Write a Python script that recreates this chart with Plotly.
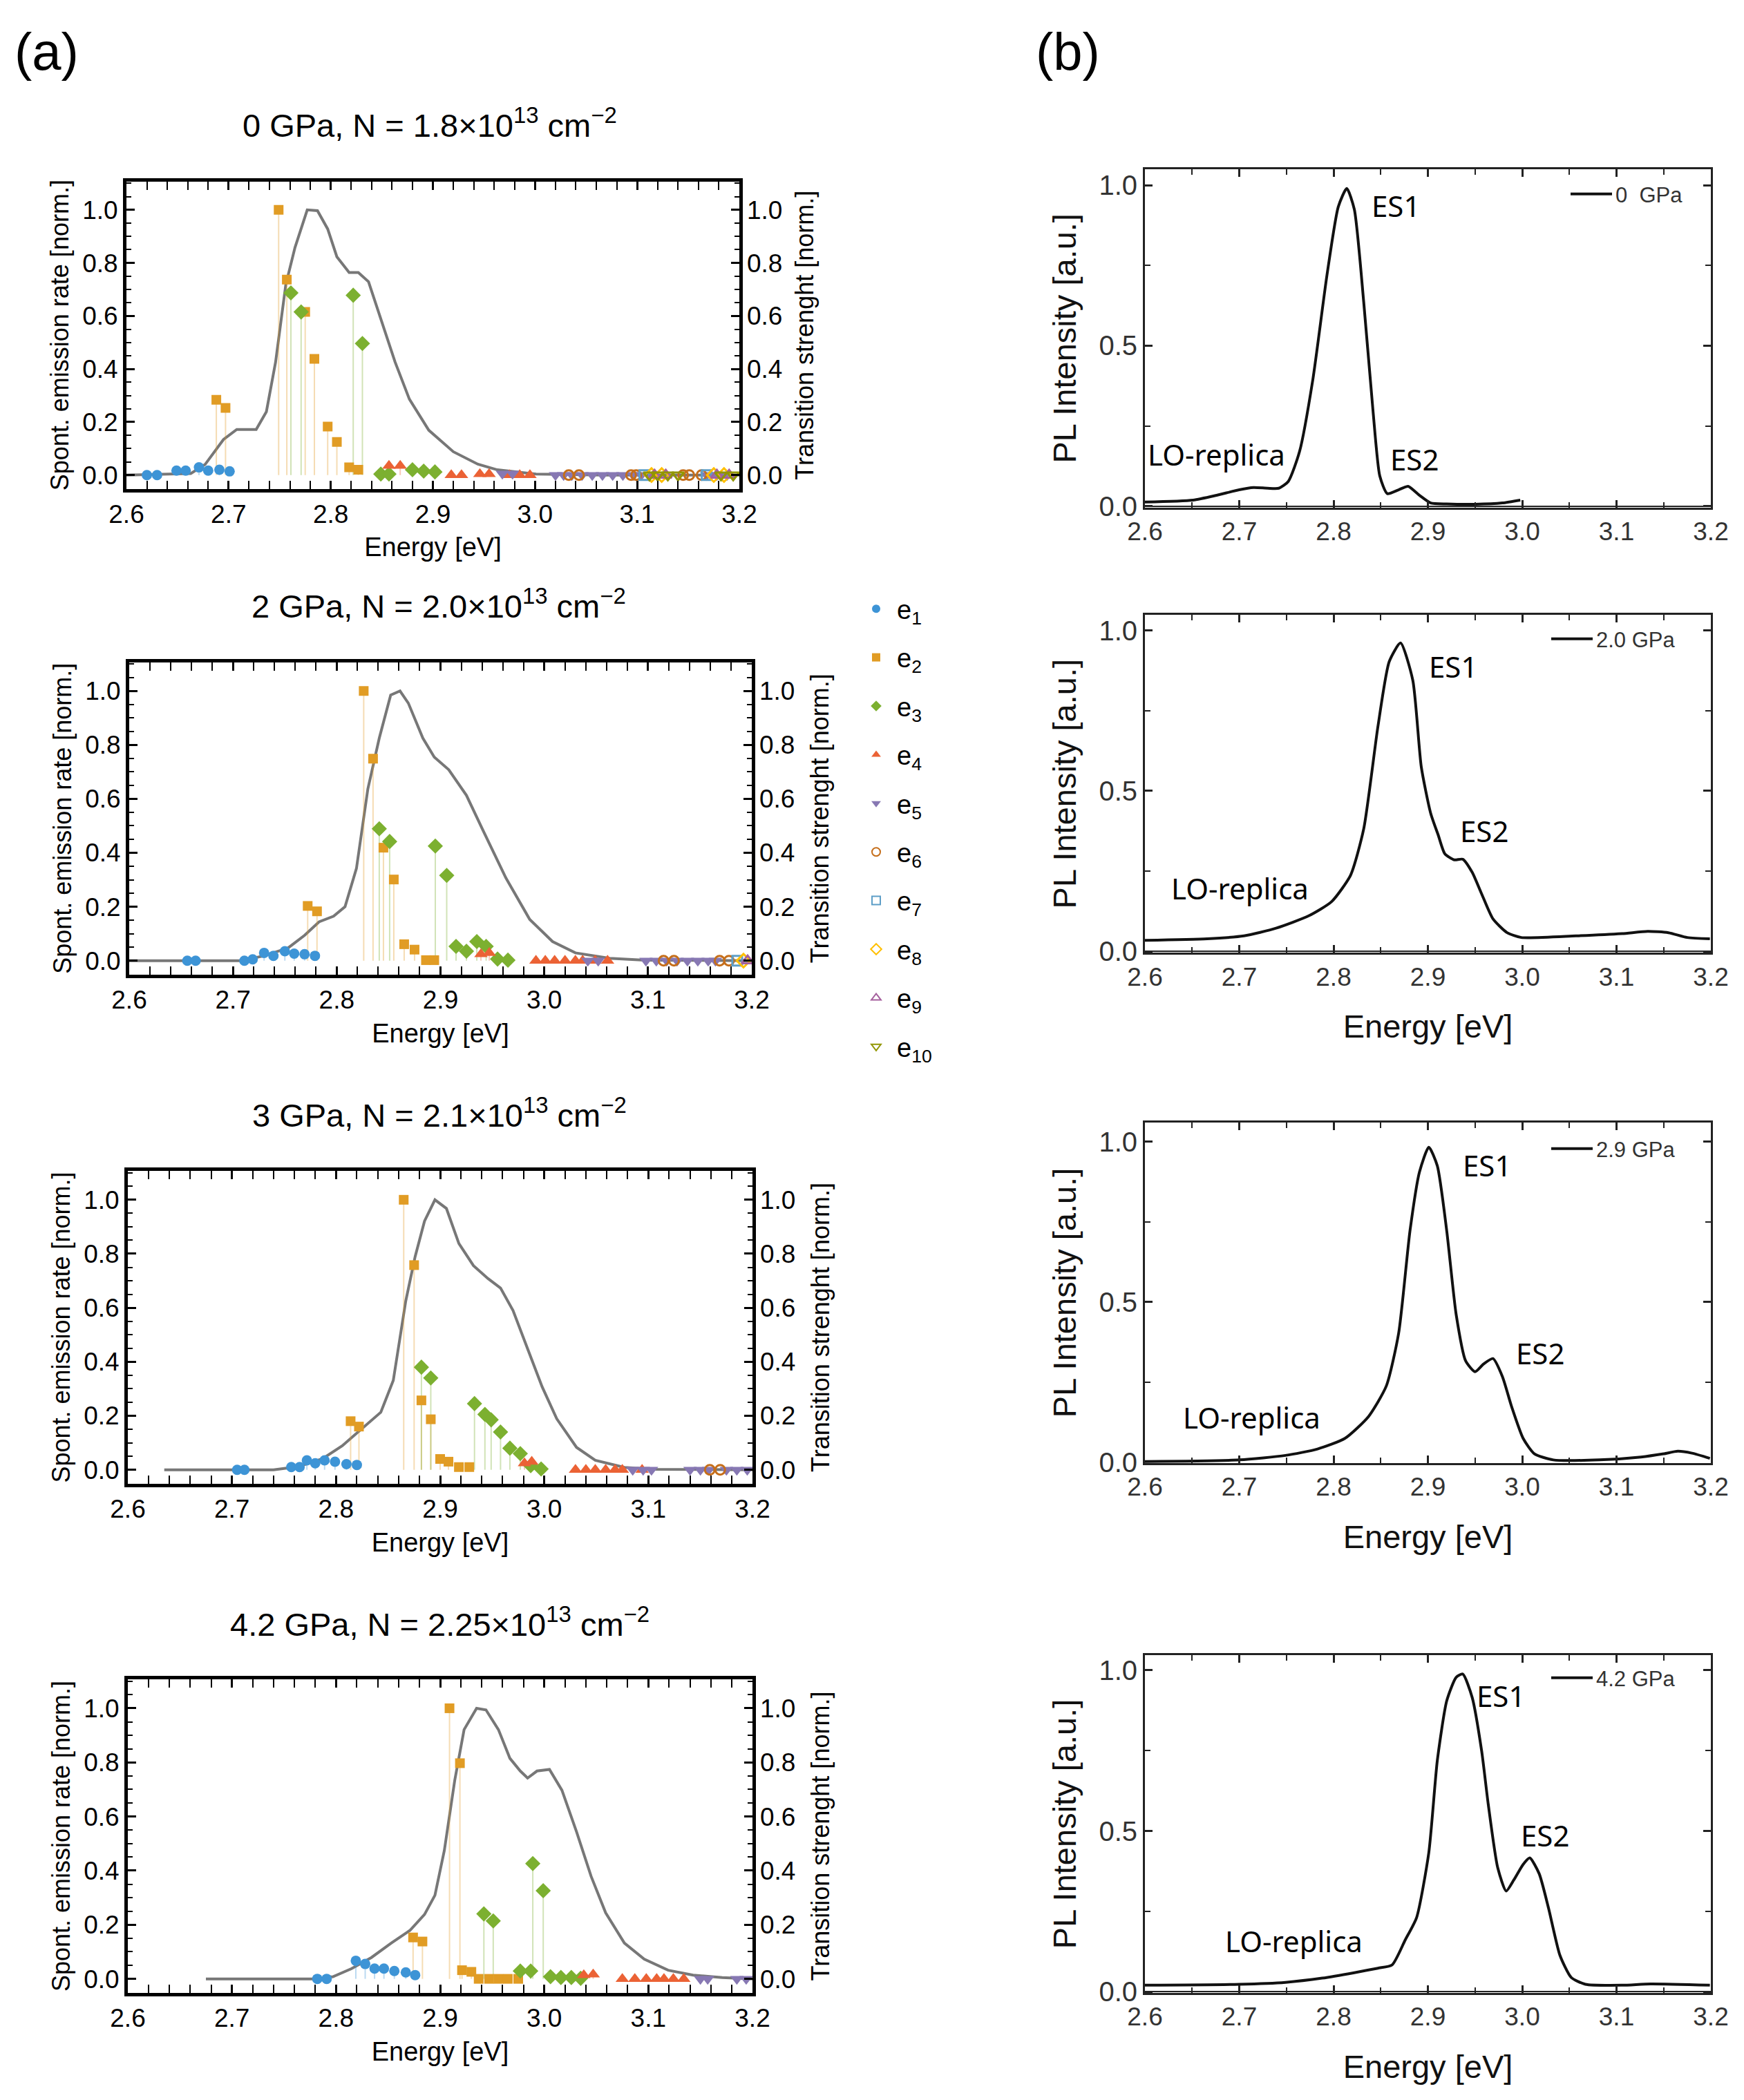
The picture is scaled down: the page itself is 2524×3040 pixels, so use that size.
import plotly.graph_objects as go

# ---------------- DATA ----------------
SERIES = ["e1", "e2", "e3", "e4", "e5", "e6", "e7", "e8", "e9", "e10"]
SERIES_LABELS = ["e<sub>1</sub>", "e<sub>2</sub>", "e<sub>3</sub>", "e<sub>4</sub>", "e<sub>5</sub>",
                 "e<sub>6</sub>", "e<sub>7</sub>", "e<sub>8</sub>", "e<sub>9</sub>", "e<sub>10</sub>"]

TITLES_A = [
    "0 GPa, N = 1.8×10<sup>13</sup> cm<sup>−2</sup>",
    "2 GPa, N = 2.0×10<sup>13</sup> cm<sup>−2</sup>",
    "3 GPa, N = 2.1×10<sup>13</sup> cm<sup>−2</sup>",
    "4.2 GPa, N = 2.25×10<sup>13</sup> cm<sup>−2</sup>",
]
PL_LABELS = ["0  GPa", "2.0 GPa", "2.9 GPa", "4.2 GPa"]

# spontaneous emission rate curves (panel a)
SE_0_E = [2.600, 2.663, 2.677, 2.695, 2.708, 2.727, 2.737, 2.746, 2.756, 2.765, 2.777, 2.787, 2.797, 2.806,
          2.818, 2.827, 2.837, 2.849, 2.863, 2.877, 2.896, 2.920, 2.944, 2.963, 3.001, 3.068, 3.200]
SE_0_V = [0.0, 0.006, 0.040, 0.134, 0.172, 0.172, 0.239, 0.426, 0.718, 0.858, 1.0, 0.997, 0.928, 0.823,
          0.764, 0.764, 0.729, 0.589, 0.426, 0.286, 0.169, 0.088, 0.041, 0.020, 0.004, 0.0, 0.0]
SE_2_E = [2.600, 2.708, 2.730, 2.753, 2.769, 2.783, 2.797, 2.808, 2.819, 2.830, 2.841, 2.852, 2.861, 2.869,
          2.883, 2.894, 2.908, 2.925, 2.941, 2.963, 2.986, 3.008, 3.030, 3.063, 3.097, 3.200]
SE_2_V = [0.0, 0.0, 0.018, 0.047, 0.094, 0.144, 0.165, 0.200, 0.342, 0.637, 0.825, 0.985, 1.0, 0.955,
          0.825, 0.755, 0.708, 0.613, 0.483, 0.307, 0.153, 0.071, 0.029, 0.009, 0.002, 0.0]
SE_3_E = [2.635, 2.740, 2.764, 2.787, 2.806, 2.825, 2.843, 2.855, 2.867, 2.876, 2.885, 2.895, 2.906, 2.918,
          2.932, 2.946, 2.958, 2.970, 2.984, 2.998, 3.012, 3.031, 3.049, 3.077, 3.105, 3.200]
SE_3_V = [0.0, 0.0, 0.012, 0.041, 0.089, 0.153, 0.213, 0.331, 0.626, 0.790, 0.921, 1.0, 0.968, 0.838,
          0.756, 0.708, 0.673, 0.590, 0.449, 0.307, 0.189, 0.083, 0.035, 0.009, 0.002, 0.0]
SE_42_E = [2.675, 2.778, 2.797, 2.815, 2.834, 2.853, 2.871, 2.885, 2.895, 2.904, 2.914, 2.923, 2.935, 2.944,
           2.956, 2.967, 2.977, 2.984, 2.993, 3.005, 3.017, 3.031, 3.045, 3.059, 3.077, 3.096, 3.119, 3.143,
           3.171, 3.200]
SE_42_V = [0.0, 0.0, 0.008, 0.038, 0.079, 0.132, 0.179, 0.238, 0.309, 0.474, 0.733, 0.921, 1.0, 0.994,
           0.921, 0.815, 0.768, 0.742, 0.768, 0.774, 0.697, 0.544, 0.379, 0.244, 0.132, 0.073, 0.032, 0.014,
           0.005, 0.0]

# transition strengths (energy list, strength list) per state
STEMS_0GPA = {
    "e1": ([2.620, 2.630, 2.649, 2.658, 2.671, 2.680, 2.691, 2.701], [0.0, 0.0, 0.017, 0.017, 0.029, 0.017, 0.020, 0.014]),
    "e2": ([2.688, 2.697, 2.749, 2.757, 2.775, 2.784, 2.797, 2.806, 2.818, 2.827], [0.284, 0.253, 1.0, 0.737, 0.615, 0.438, 0.183, 0.125, 0.029, 0.020]),
    "e3": ([2.761, 2.771, 2.822, 2.831, 2.849, 2.857, 2.880, 2.891, 2.902], [0.687, 0.615, 0.678, 0.496, 0.004, 0.004, 0.020, 0.015, 0.012]),
    "e4": ([2.857, 2.868, 2.918, 2.928, 2.946, 2.955, 2.975, 2.985, 2.995], [0.035, 0.035, 0.0, 0.0, 0.004, 0.004, 0.0, 0.0, 0.0]),
    "e5": ([2.968, 2.978, 3.020, 3.028, 3.036, 3.046, 3.056, 3.066, 3.076, 3.086, 3.096, 3.104, 3.168, 3.178, 3.188], [0.005, 0.005] + [0.0] * 13),
    "e6": ([3.033, 3.043, 3.094, 3.099, 3.145, 3.151, 3.163], [0.0] * 7),
    "e7": ([3.107, 3.168], [0.0, 0.0]),
    "e8": ([3.114, 3.124, 3.175, 3.185], [0.0] * 4),
    "e9": ([3.117, 3.128, 3.178, 3.190], [0.0] * 4),
    "e10": ([3.112, 3.120, 3.130, 3.140, 3.182, 3.194], [0.0] * 6),
}
STEMS_2GPA = {
    "e1": ([2.656, 2.664, 2.711, 2.719, 2.730, 2.739, 2.750, 2.759, 2.769, 2.779], [0.0, 0.0, 0.0, 0.005, 0.029, 0.018, 0.035, 0.026, 0.024, 0.018]),
    "e2": ([2.772, 2.781, 2.826, 2.835, 2.845, 2.855, 2.865, 2.875, 2.886, 2.894], [0.203, 0.183, 1.0, 0.749, 0.419, 0.301, 0.061, 0.041, 0.002, 0.002]),
    "e3": ([2.841, 2.851, 2.895, 2.906, 2.915, 2.925, 2.935, 2.944, 2.955, 2.965], [0.489, 0.442, 0.425, 0.316, 0.053, 0.035, 0.071, 0.053, 0.006, 0.002]),
    "e4": ([2.939, 2.947, 2.992, 3.001, 3.010, 3.020, 3.030, 3.037, 3.049, 3.061], [0.024, 0.029] + [0.0] * 8),
    "e5": ([3.042, 3.052, 3.098, 3.108, 3.118, 3.128, 3.138, 3.148, 3.158, 3.165], [0.0] * 10),
    "e6": ([3.115, 3.125, 3.169, 3.178], [0.0] * 4),
    "e7": ([3.186], [0.0]),
    "e8": ([3.192], [0.0]),
    "e9": ([3.196], [0.0]),
    "e10": ([], []),
}
STEMS_3GPA = {
    "e1": ([2.705, 2.712, 2.757, 2.765, 2.772, 2.780, 2.789, 2.799, 2.810, 2.820], [0.0, 0.0, 0.010, 0.010, 0.035, 0.024, 0.035, 0.030, 0.021, 0.018]),
    "e2": ([2.814, 2.822, 2.865, 2.875, 2.882, 2.891, 2.900, 2.908, 2.918, 2.928], [0.180, 0.160, 1.0, 0.758, 0.257, 0.187, 0.040, 0.030, 0.010, 0.010]),
    "e3": ([2.882, 2.891, 2.933, 2.943, 2.949, 2.958, 2.967, 2.977, 2.987, 2.997], [0.380, 0.340, 0.245, 0.205, 0.185, 0.140, 0.080, 0.060, 0.015, 0.003]),
    "e4": ([2.981, 2.988, 3.030, 3.040, 3.049, 3.059, 3.068, 3.075, 3.094], [0.024, 0.030] + [0.0] * 7),
    "e5": ([3.085, 3.095, 3.103, 3.140, 3.150, 3.158, 3.175, 3.185, 3.195], [0.0] * 9),
    "e6": ([3.159, 3.169], [0.0, 0.0]),
    "e7": ([], []), "e8": ([], []), "e9": ([], []), "e10": ([], []),
}
STEMS_42GPA = {
    "e1": ([2.782, 2.791, 2.819, 2.828, 2.837, 2.846, 2.856, 2.867, 2.876], [0.0, 0.0, 0.067, 0.055, 0.038, 0.038, 0.029, 0.024, 0.014]),
    "e2": ([2.874, 2.883, 2.909, 2.919, 2.921, 2.930, 2.937, 2.947, 2.956, 2.965, 2.975], [0.153, 0.138, 1.0, 0.797, 0.032, 0.026, 0.0, 0.0, 0.0, 0.0, 0.0]),
    "e3": ([2.942, 2.951, 2.977, 2.987, 2.989, 2.999, 3.006, 3.016, 3.026, 3.035], [0.240, 0.214, 0.029, 0.029, 0.426, 0.326, 0.008, 0.005, 0.005, 0.002]),
    "e4": ([3.038, 3.047, 3.075, 3.087, 3.098, 3.108, 3.115, 3.124, 3.134], [0.014, 0.016] + [0.0] * 7),
    "e5": ([3.150, 3.157, 3.185, 3.194], [0.0] * 4),
    "e6": ([], []), "e7": ([], []), "e8": ([], []), "e9": ([], []), "e10": ([], []),
}

# measured PL spectra (panel b)
PL_0_E = [2.600, 2.651, 2.676, 2.700, 2.715, 2.730, 2.742, 2.752, 2.764, 2.778, 2.793, 2.805, 2.814, 2.822,
          2.832, 2.842, 2.849, 2.857, 2.869, 2.879, 2.891, 2.903, 2.920, 2.950, 2.979, 2.998]
PL_0_I = [0.013, 0.019, 0.034, 0.051, 0.058, 0.056, 0.056, 0.077, 0.171, 0.394, 0.720, 0.933, 0.990, 0.925,
          0.635, 0.291, 0.094, 0.039, 0.051, 0.062, 0.034, 0.010, 0.007, 0.006, 0.010, 0.019]
PL_2_E = [2.600, 2.666, 2.705, 2.739, 2.774, 2.798, 2.818, 2.832, 2.847, 2.859, 2.871, 2.884, 2.893, 2.903,
          2.911, 2.918, 2.928, 2.937, 2.947, 2.957, 2.969, 2.984, 2.999, 3.057, 3.106, 3.133, 3.155, 3.175, 3.199]
PL_2_I = [0.034, 0.039, 0.048, 0.072, 0.111, 0.155, 0.237, 0.382, 0.700, 0.903, 0.961, 0.845, 0.575, 0.430,
          0.362, 0.304, 0.285, 0.287, 0.246, 0.179, 0.101, 0.058, 0.043, 0.048, 0.055, 0.062, 0.058, 0.043, 0.039]
PL_29_E = [2.600, 2.700, 2.749, 2.783, 2.812, 2.837, 2.856, 2.869, 2.881, 2.891, 2.901, 2.910, 2.920, 2.930,
           2.940, 2.950, 2.959, 2.969, 2.979, 2.989, 3.001, 3.013, 3.033, 3.082, 3.126, 3.150, 3.165, 3.180, 3.199]
PL_29_I = [0.003, 0.008, 0.022, 0.042, 0.075, 0.143, 0.239, 0.403, 0.722, 0.905, 0.983, 0.925, 0.722, 0.461,
           0.317, 0.283, 0.307, 0.324, 0.268, 0.172, 0.075, 0.027, 0.008, 0.008, 0.017, 0.027, 0.035, 0.029, 0.013]
PL_42_E = [2.600, 2.700, 2.749, 2.788, 2.822, 2.847, 2.862, 2.876, 2.888, 2.901, 2.910, 2.920, 2.930, 2.937,
           2.947, 2.957, 2.964, 2.974, 2.983, 2.991, 3.001, 3.008, 3.018, 3.028, 3.040, 3.052, 3.067, 3.106,
           3.136, 3.199]
PL_42_I = [0.020, 0.023, 0.029, 0.042, 0.059, 0.073, 0.083, 0.161, 0.230, 0.433, 0.719, 0.905, 0.978, 0.988,
           0.915, 0.749, 0.583, 0.386, 0.313, 0.347, 0.396, 0.416, 0.367, 0.259, 0.113, 0.044, 0.023, 0.020,
           0.024, 0.020]

# annotation anchor positions (energy, intensity) in panel b
ES1_POS = [(2.866, 0.936), (2.927, 0.888), (2.963, 0.927), (2.977, 0.922)]
ES2_POS = [(2.886, 0.146), (2.960, 0.377), (3.019, 0.342), (3.024, 0.488)]
LO_POS = [(2.6755, 0.163), (2.701, 0.198), (2.713, 0.142), (2.758, 0.159)]

# ---------------- STYLE ----------------
W, H = 2524, 3040
COLORS = ["#3D94D6", "#E19C24", "#7CB030", "#EB6235", "#8778B3",
          "#C56E1A", "#5D9EC7", "#FFBF00", "#A5609D", "#929600"]
SYMBOLS = ["circle", "square", "diamond", "triangle-up", "triangle-down",
           "circle-open", "square-open", "diamond-open", "triangle-up-open", "triangle-down-open"]
SIZES = [15, 14, 17, 17, 17, 14, 14, 15, 15, 15]
FONT = "Liberation Sans, Arial, sans-serif"


def rgba(hexc, a):
    h = hexc.lstrip("#")
    return "rgba(%d,%d,%d,%.2f)" % (int(h[0:2], 16), int(h[2:4], 16), int(h[4:6], 16), a)


A_FRAMES = [(183, 1070, 262.7, 707.7), (187, 1088, 958.5, 1411), (185, 1089, 1695, 2148), (185, 1089, 2431, 2885)]
A_TITLE_POS = [(622, 178), (635, 874), (636, 1611), (636, 2348)]
B_FRAMES = [(1657, 2476, 245, 734.6), (1657, 2476, 890, 1379.4), (1657, 2476, 1625, 2118), (1657, 2476, 2396, 2885)]
B_YRANGES = [(-0.004, 1.050), (-0.005, 1.049), (-0.002, 1.060), (-0.004, 1.047)]
B_LEG_Y = [281, 925, 1663, 2429]
B_LEG_X = [2268, 2240, 2240, 2240]

SE_CURVES = [(SE_0_E, SE_0_V), (SE_2_E, SE_2_V), (SE_3_E, SE_3_V), (SE_42_E, SE_42_V)]
STEMS = [STEMS_0GPA, STEMS_2GPA, STEMS_3GPA, STEMS_42GPA]
PL_CURVES = [(PL_0_E, PL_0_I), (PL_2_E, PL_2_I), (PL_29_E, PL_29_I), (PL_42_E, PL_42_I)]


def aname(kind, i):
    return kind + "axis" + ("" if i == 1 else str(i))


def aref(kind, i):
    return kind + ("" if i == 1 else str(i))


fig = go.Figure()
layout = {}
annotations = []

# ---------------- PANEL (a) ----------------
for r in range(4):
    xi, yl, yr = r + 1, r + 1, r + 5
    x0, x1, y0, y1 = A_FRAMES[r]
    tick_font = dict(family=FONT, size=37, color="black")
    layout[aname("x", xi)] = dict(
        domain=[x0 / W, x1 / W], range=[2.6, 3.2], anchor=aref("y", yl),
        tick0=2.6, dtick=0.1, tickformat=".1f", ticks="inside", ticklen=12, tickwidth=3,
        tickcolor="black", showline=True, linewidth=5, linecolor="black", mirror="allticks",
        minor=dict(dtick=0.02, ticks="inside", ticklen=7, tickwidth=2, tickcolor="black"),
        showgrid=False, zeroline=False, tickfont=tick_font,
        title=dict(text="Energy [eV]", font=dict(family=FONT, size=38, color="black"), standoff=16),
    )
    layout[aname("y", yl)] = dict(
        domain=[1 - y1 / H, 1 - y0 / H], range=[-0.052, 1.107], anchor=aref("x", xi),
        tick0=0, dtick=0.2, tickformat=".1f", ticks="inside", ticklen=12, tickwidth=3,
        tickcolor="black", showline=True, linewidth=5, linecolor="black", mirror="allticks",
        minor=dict(dtick=0.05, ticks="inside", ticklen=7, tickwidth=2, tickcolor="black"),
        showgrid=False, zeroline=False, tickfont=tick_font,
        title=dict(text="Spont. emission rate [norm.]", font=dict(family=FONT, size=36, color="black"), standoff=10),
    )
    layout[aname("y", yr)] = dict(
        overlaying=aref("y", yl), side="right", anchor=aref("x", xi),
        range=[-0.052, 1.107], tick0=0, dtick=0.2, tickformat=".1f", ticks="",
        ticklabelstandoff=10,
        showline=False, showgrid=False, zeroline=False, tickfont=tick_font,
        title=dict(text="Transition strenght [norm.]", font=dict(family=FONT, size=36, color="black"),
                   standoff=20 if r == 0 else 24),
    )
    # spontaneous emission curve
    ex, ev = SE_CURVES[r]
    fig.add_trace(go.Scatter(x=ex, y=ev, mode="lines", line=dict(color="#777777", width=4),
                             xaxis=aref("x", xi), yaxis=aref("y", yl), showlegend=False,
                             hoverinfo="skip"))
    # stems
    for k, s in enumerate(SERIES):
        es, vs = STEMS[r][s]
        sx, sy = [], []
        for e, v in zip(es, vs):
            sx += [e, e, None]
            sy += [0.0, v, None]
        if es:
            fig.add_trace(go.Scatter(x=sx, y=sy, mode="lines",
                                     line=dict(color=rgba(COLORS[k], 0.35), width=2),
                                     xaxis=aref("x", xi), yaxis=aref("y", yr), showlegend=False,
                                     hoverinfo="skip"))
    # markers
    for k, s in enumerate(SERIES):
        es, vs = STEMS[r][s]
        open_m = SYMBOLS[k].endswith("open")
        fig.add_trace(go.Scatter(
            x=es, y=vs, mode="markers", name=SERIES_LABELS[k],
            marker=dict(symbol=SYMBOLS[k], size=SIZES[k], color=COLORS[k],
                        line=dict(width=3 if open_m else 0, color=COLORS[k])),
            xaxis=aref("x", xi), yaxis=aref("y", yr),
            showlegend=(r == 0), legend="legend", legendgroup=s,
        ))
    tx, ty = A_TITLE_POS[r]
    annotations.append(dict(text=TITLES_A[r], x=tx / W, y=1 - ty / H, xref="paper", yref="paper",
                            xanchor="center", yanchor="middle", showarrow=False,
                            font=dict(family=FONT, size=47, color="black")))

# ---------------- PANEL (b) ----------------
for r in range(4):
    xi, yi = r + 5, r + 9
    x0, x1, y0, y1 = B_FRAMES[r]
    xa = dict(
        domain=[x0 / W, x1 / W], range=[2.6, 3.2], anchor=aref("y", yi),
        tick0=2.6, dtick=0.1, tickformat=".1f", ticks="inside", ticklen=11, tickwidth=3,
        tickcolor="#222222", showline=True, linewidth=3, linecolor="#222222", mirror="allticks",
        minor=dict(dtick=0.05, ticks="inside", ticklen=8, tickwidth=2, tickcolor="#222222"),
        showgrid=False, zeroline=False, tickfont=dict(family=FONT, size=37, color="#333333"),
    )
    if r > 0:
        xa["title"] = dict(text="Energy [eV]", font=dict(family=FONT, size=47, color="#111111"), standoff=36)
    layout[aname("x", xi)] = xa
    layout[aname("y", yi)] = dict(
        domain=[1 - y1 / H, 1 - y0 / H], range=list(B_YRANGES[r]), anchor=aref("x", xi),
        tick0=0, dtick=0.5, tickformat=".1f", ticks="inside", ticklen=11, tickwidth=3,
        tickcolor="#222222", showline=True, linewidth=3, linecolor="#222222", mirror="allticks",
        minor=dict(dtick=0.25, ticks="inside", ticklen=8, tickwidth=2, tickcolor="#222222"),
        showgrid=False, zeroline=True, zerolinecolor="#222222", zerolinewidth=2,
        tickfont=dict(family=FONT, size=40, color="#333333"),
        title=dict(text="PL Intensity [a.u.]", font=dict(family=FONT, size=47, color="#111111"), standoff=18),
    )
    lg = "legend%d" % (r + 2)
    pe, pi = PL_CURVES[r]
    fig.add_trace(go.Scatter(x=pe, y=pi, mode="lines", name=PL_LABELS[r],
                             line=dict(color="#111111", width=4, shape="spline", smoothing=0.6),
                             xaxis=aref("x", xi), yaxis=aref("y", yi), legend=lg, showlegend=True,
                             hoverinfo="skip"))
    layout[lg] = dict(x=B_LEG_X[r] / W, y=1 - B_LEG_Y[r] / H, xanchor="left", yanchor="middle",
                      bgcolor="rgba(0,0,0,0)", font=dict(family=FONT, size=31, color="#333333"),
                      itemwidth=60)
    ax_x, ax_y = aref("x", xi), aref("y", yi)
    for txt, (ex_, ey_) in (("ES1", ES1_POS[r]), ("ES2", ES2_POS[r]), ("LO-replica", LO_POS[r])):
        annotations.append(dict(text=txt, x=ex_, y=ey_, xref=ax_x, yref=ax_y, showarrow=False,
                                xanchor="center", yanchor="middle",
                                font=dict(family="Noto Sans, Open Sans, sans-serif", size=42, color="black")))

# panel labels
annotations.append(dict(text="(a)", x=67 / W, y=1 - 74 / H, xref="paper", yref="paper", showarrow=False,
                        xanchor="center", yanchor="middle", font=dict(family=FONT, size=76, color="black")))
annotations.append(dict(text="(b)", x=1545 / W, y=1 - 74 / H, xref="paper", yref="paper", showarrow=False,
                        xanchor="center", yanchor="middle", font=dict(family=FONT, size=76, color="black")))

layout["legend"] = dict(x=1238 / W, y=1 - 850 / H, xanchor="left", yanchor="top",
                        bgcolor="rgba(0,0,0,0)", font=dict(family=FONT, size=38, color="black"),
                        tracegroupgap=18, itemsizing="constant", traceorder="grouped", itemwidth=50)

fig.update_layout(
    width=W, height=H, margin=dict(l=0, r=0, t=0, b=0, autoexpand=False),
    paper_bgcolor="white", plot_bgcolor="white",
    annotations=annotations, **layout,
)
fig.write_html("out.html")
